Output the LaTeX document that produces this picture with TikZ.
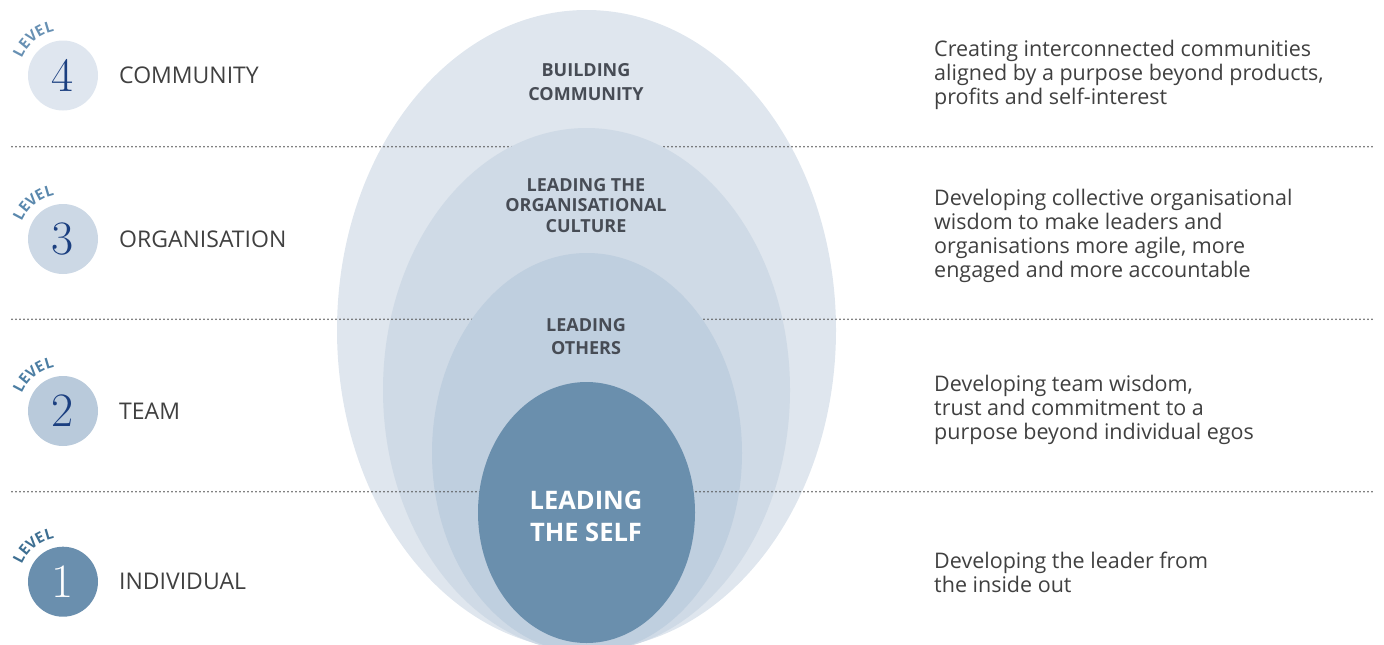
\documentclass[tikz,border=0pt]{standalone}
\usepackage{fontspec}
\newfontfamily\opensans{Open Sans}
\usepackage{tikz}
\usetikzlibrary{shapes.geometric, positioning, calc}

\definecolor{ringfour}{HTML}{DFE6EE}
\definecolor{ringthree}{HTML}{CFDAE6}
\definecolor{ringtwo}{HTML}{BFCFDF}
\definecolor{ringone}{HTML}{6A8FAD}
\definecolor{badgefour}{HTML}{DFE6EF}
\definecolor{badgethree}{HTML}{CCD8E5}
\definecolor{badgetwo}{HTML}{B9CADB}
\definecolor{badgeone}{HTML}{6A8FAE}
\definecolor{tagfour}{HTML}{6790B3}
\definecolor{tagthree}{HTML}{5A88AD}
\definecolor{tagtwo}{HTML}{4C7EA3}
\definecolor{tagone}{HTML}{3E6F92}
\definecolor{numink}{HTML}{1B3F80}
\definecolor{ringink}{HTML}{474C55}
\definecolor{greyink}{HTML}{404040}
\definecolor{dotink}{HTML}{555555}

\begin{document}
\begin{tikzpicture}[x=1pt, y=-1pt,
        ring/.style={ellipse, draw=none, inner sep=0pt},
        ringtext/.style={align=center, text=ringink, inner sep=0pt, font=\opensans\bfseries\fontsize{18}{23.3}\selectfont},
        badge/.style={circle, minimum size=70pt, inner sep=0pt, font=\fontsize{48}{48}\selectfont},
        leveltag/.style={inner sep=0pt, font=\opensans\bfseries\fontsize{15}{15}\selectfont},
        levelname/.style={anchor=base west, inner sep=0pt, text=greyink, font=\opensans\fontsize{23}{23}\selectfont},
        note/.style={anchor=base west, align=left, inner sep=0pt, text=greyink, font=\opensans\fontsize{21.5}{23.8}\selectfont},
        sep/.style={draw=dotink, line width=1.7pt, dash pattern=on 0pt off 4pt, line cap=round}
    ]
        \useasboundingbox (0,0) rectangle (1384,645);

        % Rings from the outside in, each dotted rule hidden by the next ring
        \node [ring, fill=ringfour, minimum width=499pt, minimum height=640pt] (community) at (586.5,330) {};
        \draw [sep] (12,146.7) -- (1375,146.7);
        \node [ring, fill=ringthree, minimum width=407pt, minimum height=524pt] (culture) at (586.5,390) {};
        \draw [sep] (12,319.3) -- (1375,319.3);
        \node [ring, fill=ringtwo, minimum width=310pt, minimum height=400pt] (others) at (587,453) {};
        \draw [sep] (12,491.7) -- (1375,491.7);
        \node [ring, fill=ringone, minimum width=217pt, minimum height=261pt] (self) at (586.5,512.5) {};

        % Ring labels
        \node [ringtext] (communitytext) at (586,82) {BUILDING\\COMMUNITY};
        \node [ringtext, font=\opensans\bfseries\fontsize{18}{20.5}\selectfont] (culturetext) at (586,205.5) {LEADING THE\\ORGANISATIONAL\\CULTURE};
        \node [ringtext] (otherstext) at (586,336.7) {LEADING\\OTHERS};
        \node [ringtext, text=white, font=\opensans\bfseries\fontsize{25.5}{32}\selectfont] (selftext) at (586,516.8) {LEADING\\THE SELF};

        % Level badges with curved tag and name
        \foreach \lv/\y/\fc/\nc/\tc/\lvname in {4/75.5/badgefour/numink/tagfour/COMMUNITY, 3/239/badgethree/numink/tagthree/ORGANISATION, 2/411/badgetwo/numink/tagtwo/TEAM, 1/581.7/badgeone/white/tagone/INDIVIDUAL} {
            \node [badge, fill=\fc, text=\nc] (lv\lv) at (63,\y) {\lv};
            \foreach \ch [count=\i] in {L,E,V,E,L} {
                \pgfmathsetmacro\ang{163.4-11.4*\i}
                \node [leveltag, text=\tc, rotate=\ang-90] at ($(lv\lv)+(-\ang:50)$) {\ch};
            }
            \node [levelname] (name\lv) at ($(lv\lv)+(56,8)$) {\lvname};
        }

        % Descriptions on the right (anchored on the last line)
        \node [note] (note4) at (934,104) {Creating interconnected communities\\aligned by a purpose beyond products,\\profits and self-interest};
        \node [note] (note3) at (934,277) {Developing collective organisational\\wisdom to make leaders and\\organisations more agile, more\\engaged and more accountable};
        \node [note] (note2) at (934,439) {Developing team wisdom,\\trust and commitment to a\\purpose beyond individual egos};
        \node [note] (note1) at (934,592) {Developing the leader from\\the inside out};
    \end{tikzpicture}
\end{document}
